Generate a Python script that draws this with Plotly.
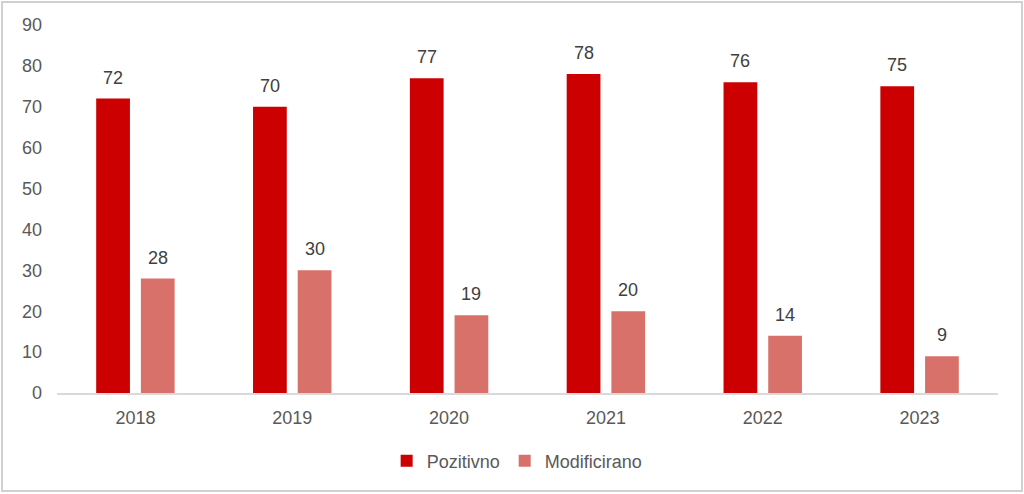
import plotly.graph_objects as go

years = ["2018", "2019", "2020", "2021", "2022", "2023"]
pozitivno = [72, 70, 77, 78, 76, 75]
modificirano = [28, 30, 19, 20, 14, 9]

W, H = 1024, 494
L, R, T, B = 57, 26, 25, 101
font_family = "Liberation Sans, Arial, sans-serif"
BARGAP, GROUPGAP = 0.43, 0.245

fig = go.Figure()
fig.add_trace(go.Bar(
    x=years, y=pozitivno, name="Pozitivno",
    marker=dict(color="#CC0000", line=dict(width=0)),
))
fig.add_trace(go.Bar(
    x=years, y=modificirano, name="Modificirano",
    marker=dict(color="#D9716B", line=dict(width=0)),
))

ph = H - T - B
pw = W - L - R
cat_px = pw / len(years)
shift = cat_px * (1 - BARGAP) / 4

annotations = []
for i, v in enumerate(pozitivno):
    annotations.append(dict(x=i, y=v, xref="x", yref="y", text=str(v), showarrow=False,
                            yanchor="bottom", xshift=-shift, yshift=9,
                            font=dict(size=18, color="#404040", family=font_family)))
for i, v in enumerate(modificirano):
    annotations.append(dict(x=i, y=v, xref="x", yref="y", text=str(v), showarrow=False,
                            yanchor="bottom", xshift=shift, yshift=9,
                            font=dict(size=18, color="#404040", family=font_family)))

fig.update_layout(
    width=W, height=H,
    margin=dict(l=L, r=R, t=T, b=B),
    paper_bgcolor="white", plot_bgcolor="white",
    barmode="group", bargap=BARGAP, bargroupgap=GROUPGAP,
    font=dict(family=font_family, color="#595959", size=18),
    showlegend=True,
    legend=dict(orientation="h", x=0.489, xanchor="center",
                y=-68 / ph, yanchor="middle",
                font=dict(size=18, color="#595959"),
                itemwidth=30, traceorder="normal"),
    xaxis=dict(type="category", categoryorder="array", categoryarray=years,
               range=[-0.5, len(years) - 0.5],
               showgrid=False, showline=True, linecolor="#D9D9D9", linewidth=1.5,
               ticks="", tickfont=dict(size=18, color="#595959"),
               ticklabelstandoff=8),
    yaxis=dict(range=[0, 90], dtick=10, showgrid=False, zeroline=False,
               showline=False, ticks="", tickfont=dict(size=18, color="#595959"),
               ticklabelstandoff=14),
    annotations=annotations,
    shapes=[dict(type="rect", xref="paper", yref="paper",
                 x0=-(L - 2) / pw, x1=1 + (R - 2) / pw,
                 y0=-(B - 3) / ph, y1=1 + (T - 2) / ph,
                 line=dict(color="#D0D0D0", width=2), fillcolor="rgba(0,0,0,0)",
                 layer="below")],
)

fig.write_html("out.html")
